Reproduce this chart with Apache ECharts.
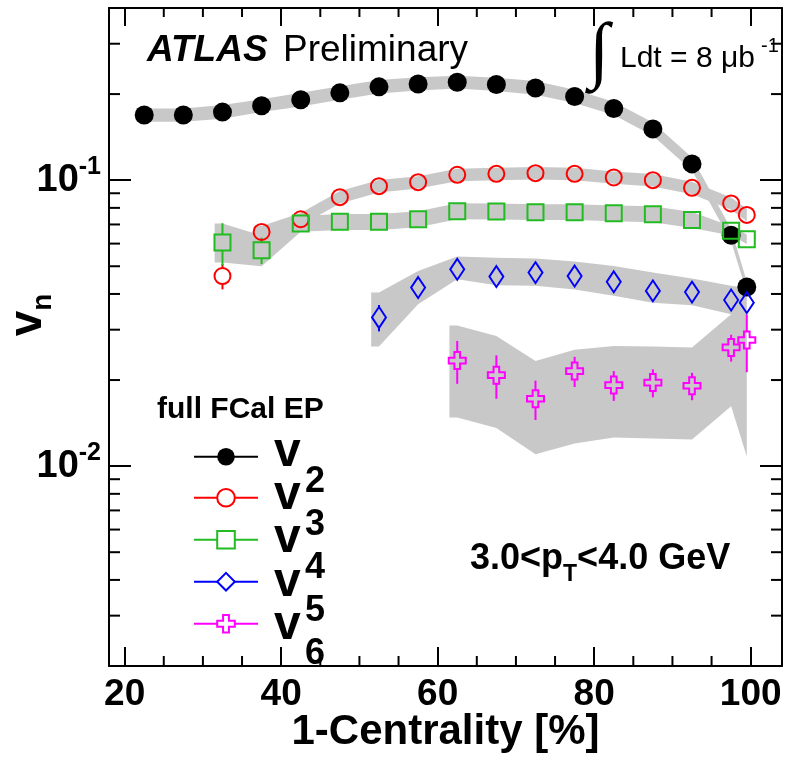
<!DOCTYPE html>
<html>
<head>
<meta charset="utf-8">
<script src="https://cdn.jsdelivr.net/npm/echarts@6.0.0/dist/echarts.min.js"></script>
<style>
  html, body { margin: 0; padding: 0; background: #fff; }
  #chart { width: 786px; height: 758px; }
</style>
</head>
<body>
<div id="chart"></div>
<script>
// 1-centrality bin centres (%)
const centrality = [22.5, 27.5, 32.5, 37.5, 42.5, 47.5, 52.5, 57.5, 62.5, 67.5, 72.5, 77.5, 82.5, 87.5, 92.5, 97.5, 99.5];

// v2
const v2      = [0.169, 0.169, 0.173, 0.182, 0.191, 0.202, 0.212, 0.217, 0.220, 0.216, 0.210, 0.196, 0.178, 0.151, 0.114, 0.0642, 0.0423];
const v2Err   = [0.001, 0.001, 0.001, 0.001, 0.001, 0.001, 0.001, 0.001, 0.001, 0.001, 0.001, 0.001, 0.001, 0.001, 0.001, 0.001, 0.001];
const v2SysLo = [0.160, 0.160, 0.164, 0.173, 0.181, 0.191, 0.201, 0.206, 0.209, 0.205, 0.199, 0.186, 0.169, 0.143, 0.108, 0.0610, 0.0405];
const v2SysHi = [0.178, 0.178, 0.183, 0.192, 0.202, 0.213, 0.224, 0.229, 0.232, 0.228, 0.222, 0.207, 0.188, 0.159, 0.120, 0.0675, 0.0442];

// v3
const v3      = [null, null, 0.0462, 0.0659, 0.0730, 0.0872, 0.0953, 0.0984, 0.1044, 0.1052, 0.1058, 0.1052, 0.1022, 0.1000, 0.0940, 0.0829, 0.0756];
const v3Err   = [null, null, 0.0047, 0.0030, 0.0020, 0.0015, 0.0012, 0.0010, 0.0010, 0.0010, 0.0010, 0.0010, 0.0010, 0.0010, 0.0012, 0.0015, 0.0020];
const v3SysLo = [null, null, null, 0.0626, 0.0694, 0.0828, 0.0905, 0.0935, 0.0992, 0.0999, 0.1005, 0.0999, 0.0971, 0.0950, 0.0893, 0.0788, 0.0718];
const v3SysHi = [null, null, null, 0.0692, 0.0767, 0.0916, 0.1001, 0.1033, 0.1096, 0.1105, 0.1111, 0.1105, 0.1073, 0.1050, 0.0987, 0.0870, 0.0794];

// v4
const v4      = [null, null, 0.0605, 0.0569, 0.0705, 0.0715, 0.0715, 0.0730, 0.0779, 0.0777, 0.0773, 0.0773, 0.0766, 0.0760, 0.0726, 0.0665, 0.0622];
const v4Err   = [null, null, 0.0102, 0.0060, 0.0030, 0.0020, 0.0015, 0.0012, 0.0010, 0.0010, 0.0010, 0.0010, 0.0010, 0.0010, 0.0012, 0.0015, 0.0020];
const v4SysLo = [null, null, 0.0515, 0.0500, 0.0660, 0.0670, 0.0670, 0.0684, 0.0730, 0.0728, 0.0725, 0.0725, 0.0718, 0.0712, 0.0680, 0.0640, 0.0598];
const v4SysHi = [null, null, 0.0705, 0.0640, 0.0750, 0.0762, 0.0762, 0.0778, 0.0830, 0.0828, 0.0824, 0.0824, 0.0816, 0.0810, 0.0774, 0.0690, 0.0646];

// v5
const v5      = [null, null, null, null, null, null, 0.0331, 0.0421, 0.0488, 0.0460, 0.0475, 0.0462, 0.0441, 0.0410, 0.0406, 0.0381, 0.0373];
const v5Err   = [null, null, null, null, null, null, 0.0035, 0.0022, 0.0015, 0.0012, 0.0012, 0.0012, 0.0012, 0.0012, 0.0012, 0.0015, 0.0020];
const v5SysLo = [null, null, null, null, null, null, 0.0262, 0.0368, 0.0450, 0.0429, 0.0427, 0.0415, 0.0394, 0.0373, 0.0365, 0.0340, 0.0336];
const v5SysHi = [null, null, null, null, null, null, 0.0405, 0.0481, 0.0541, 0.0535, 0.0532, 0.0520, 0.0501, 0.0475, 0.0453, 0.0427, 0.0420];

// v6
const v6      = [null, null, null, null, null, null, null, null, 0.0234, 0.0208, 0.0172, 0.0215, 0.0192, 0.0196, 0.0191, 0.0260, 0.0276];
const v6Err   = [null, null, null, null, null, null, null, null, 0.0040, 0.0036, 0.0027, 0.0026, 0.0023, 0.0022, 0.0021, 0.0028, 0.0063];
const v6SysLo = [null, null, null, null, null, null, null, null, 0.0148, 0.0136, 0.0110, 0.0120, 0.0126, 0.0125, 0.0124, 0.0162, 0.0108];
const v6SysHi = [null, null, null, null, null, null, null, null, 0.0310, 0.0285, 0.0233, 0.0255, 0.0263, 0.0262, 0.0260, 0.0340, 0.0344];

// axis ranges and minor tick positions
const X_MIN = 18, X_MAX = 104;
const Y_MIN = 0.002, Y_MAX = 0.4;
const xMinorTicks = [25, 30, 35, 45, 50, 55, 65, 70, 75, 85, 90, 95];
const yMinorTicks = [0.003, 0.004, 0.005, 0.006, 0.007, 0.008, 0.009,
                     0.02, 0.03, 0.04, 0.05, 0.06, 0.07, 0.08, 0.09, 0.2, 0.3];

const FONT = '"Liberation Sans", Arial, Helvetica, sans-serif';
const BAND_GRAY = '#c8c8c8';
const BAND_PAD = 1.0;     // bands start slightly left of their first point

const CROSS = 'path://M1,0H2V1H3V2H2V3H1V2H0V1H1Z';

const harmonics = [
  { name: 'v2', vals: v2, err: v2Err, lo: v2SysLo, hi: v2SysHi, color: '#000000', symbol: 'circle', size: 19, filled: true,  half: 9.5 },
  { name: 'v3', vals: v3, err: v3Err, lo: v3SysLo, hi: v3SysHi, color: '#ff0000', symbol: 'circle', size: 16, filled: false, half: 8 },
  { name: 'v4', vals: v4, err: v4Err, lo: v4SysLo, hi: v4SysHi, color: '#22bb22', symbol: 'rect',   size: 16, filled: false, half: 8 },
  { name: 'v5', vals: v5, err: v5Err, lo: v5SysLo, hi: v5SysHi, color: '#0000ff', symbol: 'diamond', size: [14, 21], filled: false, half: 10.5 },
  { name: 'v6', vals: v6, err: v6Err, lo: v6SysLo, hi: v6SysHi, color: '#ff00ff', symbol: CROSS,   size: 17, filled: false, half: 8.5 }
];

function bandSeries(h) {
  const idx = centrality.map((_, i) => i).filter(i => h.lo[i] != null && h.hi[i] != null);
  return {
    type: 'custom',
    name: h.name + ' sys',
    coordinateSystem: 'cartesian2d',
    silent: true,
    z: 1,
    data: [[centrality[idx[0]], h.vals[idx[0]]]],
    renderItem: function (params, api) {
      const upper = [], lower = [];
      const i0 = idx[0];
      upper.push(api.coord([centrality[i0] - BAND_PAD, h.hi[i0]]));
      lower.push(api.coord([centrality[i0] - BAND_PAD, h.lo[i0]]));
      idx.forEach(i => {
        upper.push(api.coord([centrality[i], h.hi[i]]));
        lower.push(api.coord([centrality[i], h.lo[i]]));
      });
      return {
        type: 'polygon',
        shape: { points: upper.concat(lower.reverse()) },
        style: { fill: BAND_GRAY, stroke: null }
      };
    }
  };
}

function errorSeries(h) {
  const data = [];
  centrality.forEach((x, i) => {
    if (h.vals[i] != null && h.err[i] != null) data.push([x, h.vals[i], h.err[i]]);
  });
  return {
    type: 'custom',
    name: h.name + ' stat',
    coordinateSystem: 'cartesian2d',
    silent: true,
    z: 3,
    data: data,
    renderItem: function (params, api) {
      const x = api.value(0), v = api.value(1), e = api.value(2);
      const c = api.coord([x, v]);
      const top = api.coord([x, v + e]);
      const bot = api.coord([x, v - e]);
      const children = [];
      if (top[1] < c[1] - h.half) {
        children.push({ type: 'line', shape: { x1: c[0], y1: top[1], x2: c[0], y2: c[1] - h.half },
                        style: { stroke: h.color, lineWidth: 2 } });
      }
      if (bot[1] > c[1] + h.half) {
        children.push({ type: 'line', shape: { x1: c[0], y1: c[1] + h.half, x2: c[0], y2: bot[1] },
                        style: { stroke: h.color, lineWidth: 2 } });
      }
      return { type: 'group', children: children };
    }
  };
}

function markerSeries(h) {
  const data = [];
  centrality.forEach((x, i) => { if (h.vals[i] != null) data.push([x, h.vals[i]]); });
  return {
    type: 'line',
    name: h.name,
    z: 5,
    data: data,
    symbol: h.symbol,
    symbolSize: h.size,
    showSymbol: true,
    lineStyle: { color: h.color, width: 2, opacity: 0 },
    itemStyle: h.filled
      ? { color: h.color, borderWidth: 0, opacity: 1 }
      : { color: 'rgba(0,0,0,0)', borderColor: h.color, borderWidth: 2, opacity: 1 },
    emphasis: { disabled: true },
    animation: false
  };
}

// minor ticks on all four sides of the frame
const tickSeries = [
  {
    type: 'custom', name: 'y minor ticks', coordinateSystem: 'cartesian2d', silent: true, z: 6,
    data: yMinorTicks.map(v => [X_MIN, v]),
    renderItem: function (params, api) {
      const v = api.value(1);
      const l = api.coord([X_MIN, v]);
      const r = api.coord([X_MAX, v]);
      return { type: 'group', children: [
        { type: 'line', shape: { x1: l[0], y1: l[1], x2: l[0] + 11, y2: l[1] }, style: { stroke: '#000', lineWidth: 2 } },
        { type: 'line', shape: { x1: r[0], y1: r[1], x2: r[0] - 11, y2: r[1] }, style: { stroke: '#000', lineWidth: 2 } }
      ] };
    }
  },
  {
    type: 'custom', name: 'x minor ticks', coordinateSystem: 'cartesian2d', silent: true, z: 6,
    data: xMinorTicks.map(x => [x, Y_MIN]),
    renderItem: function (params, api) {
      const x = api.value(0);
      const b = api.coord([x, Y_MIN]);
      const t = api.coord([x, Y_MAX]);
      return { type: 'group', children: [
        { type: 'line', shape: { x1: b[0], y1: b[1], x2: b[0], y2: b[1] - 10 }, style: { stroke: '#000', lineWidth: 2 } },
        { type: 'line', shape: { x1: t[0], y1: t[1], x2: t[0], y2: t[1] + 9 }, style: { stroke: '#000', lineWidth: 2 } }
      ] };
    }
  }
];

const series = []
  .concat(harmonics.map(bandSeries))
  .concat(harmonics.map(errorSeries))
  .concat(harmonics.map(markerSeries))
  .concat(tickSeries);

const axisLineStyle = { show: true, lineStyle: { color: '#000', width: 2 } };

function yLabel(v) {
  const p = Math.round(Math.log10(v));
  if (Math.abs(Math.log10(v) - p) > 1e-6) return '';
  return '{b|10}{e|' + p + '}';
}

// legend: symbol rows from the legend component, "v_n" labels as text beside them
const LEGEND_LEFT = 188;
const LEGEND_FIRST_ROW = 456.7;   // centre of first row
const LEGEND_PITCH = 43.2;
const LEGEND_ICON_H = 22;

const legendLabels = [];
harmonics.forEach((h, k) => {
  const cy = LEGEND_FIRST_ROW + k * LEGEND_PITCH;
  legendLabels.push(
    { type: 'text', x: 274, y: cy - 4, style: { text: 'v', fontFamily: FONT, fontWeight: 'bold', fontSize: 48, fill: '#000', align: 'left', verticalAlign: 'middle' } },
    { type: 'text', x: 305, y: cy + 25, style: { text: h.name.slice(1), fontFamily: FONT, fontWeight: 'bold', fontSize: 36, fill: '#000', align: 'left', verticalAlign: 'middle' } }
  );
});

const option = {
  animation: false,
  backgroundColor: '#ffffff',
  grid: { left: 109, right: 4, top: 8, bottom: 92, containLabel: false, outerBoundsMode: 'none' },
  xAxis: [
    {
      type: 'value', position: 'bottom', min: X_MIN, max: X_MAX,
      minInterval: 20, maxInterval: 20, splitNumber: 4,
      axisLine: axisLineStyle,
      axisTick: { show: true, inside: true, length: 19, lineStyle: { color: '#000', width: 2 } },
      splitLine: { show: false },
      axisLabel: {
        show: true, showMinLabel: false, showMaxLabel: false, margin: 10,
        color: '#000', fontFamily: FONT, fontWeight: 'bold', fontSize: 37
      },
      name: '1-Centrality [%]', nameLocation: 'middle', nameGap: 45, nameMoveOverlap: false,
      nameTextStyle: { color: '#000', fontFamily: FONT, fontWeight: 'bold', fontSize: 42, verticalAlign: 'top' }
    },
    {
      type: 'value', position: 'top', min: X_MIN, max: X_MAX,
      minInterval: 20, maxInterval: 20, splitNumber: 4,
      axisLine: axisLineStyle,
      axisTick: { show: true, inside: true, length: 18, lineStyle: { color: '#000', width: 2 } },
      splitLine: { show: false },
      axisLabel: { show: false }
    }
  ],
  yAxis: [
    {
      type: 'log', logBase: 10, position: 'left', min: Y_MIN, max: Y_MAX,
      axisLine: axisLineStyle,
      axisTick: { show: true, inside: true, length: 22, lineStyle: { color: '#000', width: 2 } },
      splitLine: { show: false },
      axisLabel: {
        show: true, showMinLabel: false, showMaxLabel: false, margin: 8,
        formatter: yLabel,
        rich: {
          b: { fontFamily: FONT, fontWeight: 'bold', fontSize: 38, color: '#000', lineHeight: 38, verticalAlign: 'bottom' },
          e: { fontFamily: FONT, fontWeight: 'bold', fontSize: 25, color: '#000', lineHeight: 25, padding: [0, 0, 20, 0], verticalAlign: 'bottom' }
        }
      }
    },
    {
      type: 'log', logBase: 10, position: 'right', min: Y_MIN, max: Y_MAX,
      axisLine: axisLineStyle,
      axisTick: { show: true, inside: true, length: 22, lineStyle: { color: '#000', width: 2 } },
      splitLine: { show: false },
      axisLabel: { show: false }
    }
  ],
  legend: {
    orient: 'vertical',
    left: LEGEND_LEFT,
    top: LEGEND_FIRST_ROW - LEGEND_ICON_H / 2 - 5,
    padding: 5,
    itemWidth: 64,
    itemHeight: LEGEND_ICON_H,
    itemGap: LEGEND_PITCH - LEGEND_ICON_H,
    selectedMode: false,
    lineStyle: { width: 2, opacity: 1 },
    data: harmonics.map(h => ({ name: h.name, itemStyle: h.filled
      ? { color: h.color, borderWidth: 0 }
      : { color: '#ffffff', borderColor: h.color, borderWidth: 2 } })),
    formatter: () => '',
    textStyle: { fontSize: 12 }
  },
  graphic: [
    { type: 'text', left: 147, top: 32, style: { text: 'ATLAS', fontFamily: FONT, fontWeight: 'bold', fontStyle: 'italic', fontSize: 37, fill: '#000' } },
    { type: 'text', left: 283, top: 32, style: { text: 'Preliminary', fontFamily: FONT, fontSize: 37, fill: '#000' } },
    { type: 'text', left: 589, top: 18, style: { text: '\u222B', fontFamily: '"Liberation Serif", "DejaVu Serif", serif', fontSize: 74, fill: '#000' } },
    { type: 'text', left: 620, top: 44, style: { text: 'Ldt = 8 \u03BCb', fontFamily: FONT, fontSize: 30, fill: '#000' } },
    { type: 'text', left: 761, top: 36, style: { text: '-1', fontFamily: FONT, fontSize: 20, fill: '#000' } },
    { type: 'text', left: 157, top: 395, style: { text: 'full FCal EP', fontFamily: FONT, fontWeight: 'bold', fontSize: 30, fill: '#000' } },
    { type: 'text', left: 470, top: 541, style: {
        text: '{a|3.0<p}{s|T}{a|<4.0 GeV}',
        rich: {
          a: { fontFamily: FONT, fontWeight: 'bold', fontSize: 36, fill: '#000', lineHeight: 37, verticalAlign: 'top' },
          s: { fontFamily: FONT, fontWeight: 'bold', fontSize: 23, fill: '#000', lineHeight: 24, padding: [22, 0, 0, 0], verticalAlign: 'top' }
        } } },
    { type: 'text', x: 30, y: 315, rotation: Math.PI / 2, style: {
        text: '{v|v}{n|n}', align: 'center', verticalAlign: 'middle',
        rich: {
          v: { fontFamily: FONT, fontWeight: 'bold', fontSize: 46, fill: '#000', lineHeight: 50, verticalAlign: 'top' },
          n: { fontFamily: FONT, fontWeight: 'bold', fontSize: 28, fill: '#000', lineHeight: 28, padding: [24, 0, 0, 0], verticalAlign: 'top' }
        } } }
  ].concat(legendLabels),
  series: series
};

const chart = echarts.init(document.getElementById('chart'), null, { renderer: 'canvas' });
chart.setOption(option);
</script>
</body>
</html>
